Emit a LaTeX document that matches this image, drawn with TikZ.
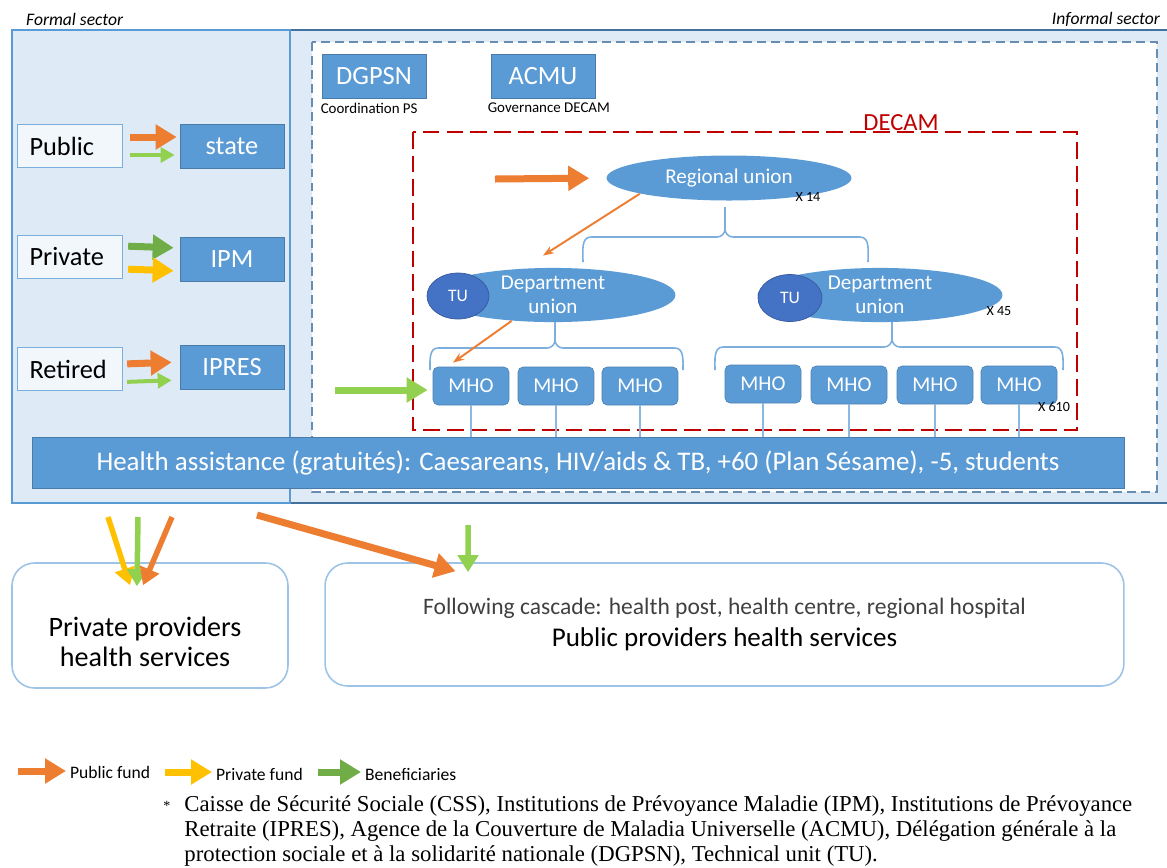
\documentclass[tikz,border=0pt]{standalone}
\usepackage{fontspec}
\setmainfont{Carlito}
\newfontfamily\notefont{Liberation Serif}
\usepackage{xcolor}
\usetikzlibrary{shapes,arrows.meta,positioning,calc}

\definecolor{boxblue}{HTML}{5B9BD5}
\definecolor{darkblue}{HTML}{41719C}
\definecolor{paleblue}{HTML}{DEEBF7}
\definecolor{tublue}{HTML}{4472C4}
\definecolor{fundorange}{HTML}{ED7D31}
\definecolor{fundyellow}{HTML}{FFC000}
\definecolor{benefgreen}{HTML}{70AD47}
\definecolor{lightgreen}{HTML}{92D050}
\definecolor{decamred}{HTML}{C00000}
\definecolor{framegray}{HTML}{9DC3E6}

% brace under a union: x1, x2, xmid, ytip, ybar, ytop
\newcommand{\hbrace}[6]{%
  \draw[braceline] (#1,#4) to[out=90,in=180] (#1+8,#5) -- (#3-8,#5) to[out=0,in=-90] (#3,#5-8) -- (#3,#6);
  \draw[braceline] (#2,#4) to[out=90,in=0] (#2-8,#5) -- (#3+8,#5) to[out=180,in=-90] (#3,#5-8);
}

\begin{document}
\begin{tikzpicture}[x=0.02cm, y=-0.02cm,
    bluebox/.style={rectangle, fill=boxblue, draw=boxblue!80!black, line width=0.4pt, text=white, font=\fontsize{15}{18}\selectfont, minimum width=2.08cm, minimum height=0.88cm, inner sep=0pt},
    srcbox/.style={rectangle, fill=paleblue!40!white, draw=boxblue!80, line width=0.8pt, font=\fontsize{15}{18}\selectfont, text width=1.62cm, inner xsep=0.24cm, inner ysep=0pt, minimum height=0.86cm, align=left},
    union/.style={ellipse, fill=boxblue, text=white, font=\fontsize{12}{14}\selectfont, minimum width=4.9cm, minimum height=0.92cm, inner sep=0pt, align=center},
    tu/.style={ellipse, fill=tublue, draw=tublue!80!black, text=white, font=\fontsize{10}{12}\selectfont, minimum width=1.24cm, minimum height=0.92cm, inner sep=0pt},
    mho/.style={rectangle, rounded corners=3pt, fill=boxblue, draw=boxblue!85!black, text=white, font=\fontsize{12}{14}\selectfont, minimum width=1.52cm, minimum height=0.76cm, inner sep=0pt},
    provbox/.style={rectangle, rounded corners=0.45cm, draw=framegray, line width=0.9pt, fill=white},
    count/.style={font=\fontsize{8}{9}\selectfont, inner sep=0pt},
    small/.style={font=\fontsize{8.5}{10}\selectfont, inner sep=1pt},
    legend/.style={font=\fontsize{10}{12}\selectfont, inner sep=1pt},
    fat/.style={line width=0.14cm, -{Triangle[length=0.42cm,width=0.48cm]}},
    slim/.style={line width=0.08cm, -{Triangle[length=0.28cm,width=0.3cm]}},
    drop/.style={line width=0.11cm, -{Triangle[length=0.34cm,width=0.4cm]}},
    link/.style={fundorange, line width=1.1pt, -{Stealth[length=0.22cm,width=0.16cm]}},
    tie/.style={boxblue!70, line width=0.8pt},
    braceline/.style={boxblue!80, line width=0.9pt},
]
    \useasboundingbox (0,0) rectangle (1167,867);

    % Sectors
    \node[anchor=west, font=\itshape\fontsize{10}{12}\selectfont] (formallbl) at (20,19) {Formal sector};
    \node[anchor=east, font=\itshape\fontsize{10}{12}\selectfont] (informallbl) at (1166,19) {Informal sector};
    \draw[darkblue, line width=1.6pt, fill=paleblue] (290,30) rectangle (1180,503);
    \draw[boxblue, line width=1.4pt, fill=paleblue] (12,30) rectangle (290,503);
    \draw[darkblue!80, line width=1.1pt, dash pattern=on 5pt off 3pt, fill=white] (312,42) rectangle (1157,492);

    % Formal sector funds
    \node[srcbox] (pub) at (70,146) {Public};
    \node[srcbox] (priv) at (70,257) {Private};
    \node[srcbox] (ret) at (70,369) {Retired};
    \node[bluebox] (state) at (232,146) {state};
    \node[bluebox] (ipm) at (232,259) {IPM};
    \node[bluebox] (ipres) at (232,367) {IPRES};

    \draw[fat, fundorange, shorten <=0.14cm, shorten >=0.06cm] ([yshift=0.18cm]pub.east) -- ([yshift=0.18cm]state.west);
    \draw[slim, lightgreen, shorten <=0.14cm, shorten >=0.1cm] ([yshift=-0.18cm]pub.east) -- ([yshift=-0.18cm]state.west);
    \draw[fat, benefgreen, shorten <=0.1cm, shorten >=0.12cm] ([yshift=0.22cm]priv.east) -- ([yshift=0.22cm]ipm.west);
    \draw[fat, fundyellow, shorten <=0.1cm, shorten >=0.12cm] ([yshift=-0.24cm]priv.east) -- ([yshift=-0.24cm]ipm.west);
    \draw[fat, fundorange, shorten <=0.08cm, shorten >=0.16cm] ([yshift=0.1cm]ret.east) -- ([yshift=0.1cm]ipres.west);
    \draw[slim, lightgreen, shorten <=0.08cm, shorten >=0.16cm] ([yshift=-0.26cm]ret.east) -- ([yshift=-0.26cm]ipres.west);

    % Informal sector
    \node[bluebox] (dgpsn) at (374,76.5) {DGPSN};
    \node[bluebox] (acmu) at (543,76.5) {ACMU};
    \node[small, anchor=north west] (coordlbl) at ([xshift=-0.06cm,yshift=-0.04cm]dgpsn.south west) {Coordination PS};
    \node[small, anchor=north west] (govlbl) at ([xshift=-0.1cm,yshift=-0.04cm]acmu.south west) {Governance DECAM};

    % DECAM
    \draw[decamred, line width=1.5pt, dash pattern=on 9.5pt off 4pt] (413,132) rectangle (1077,430);
    \node[anchor=south, inner sep=1pt, text=decamred, font=\fontsize{14}{16}\selectfont] (decamlbl) at (901,133) {DECAM};

    \hbrace{583}{868}{725}{262}{237}{207}
    \hbrace{430}{683}{555}{370}{348}{320}
    \hbrace{715}{1063}{892}{370}{347}{319}

    \node[union, minimum width=4.9cm, minimum height=0.9cm] (reg) at (729,178) {Regional union};
    \node[count] (x14) at (808,197) {X 14};
    \node[union] (deptl) at (553,295) {Department\\union};
    \node[union] (deptr) at (880,295) {Department\\union};
    \node[tu] (tul) at (458,296) {TU};
    \node[tu, minimum width=1.28cm, minimum height=0.94cm] (tur) at (790,298) {TU};
    \node[count] (x45) at (999,311) {X 45};

    \node[mho] (m1) at (471,386) {MHO};
    \node[mho] (m2) at (556,386) {MHO};
    \node[mho] (m3) at (640,386) {MHO};
    \node[mho] (m4) at (763,384) {MHO};
    \node[mho] (m5) at (849,385) {MHO};
    \node[mho] (m6) at (935,385) {MHO};
    \node[mho] (m7) at (1019,385) {MHO};
    \node[count] (x610) at (1054,407) {X 610};

    \coordinate (regsrc) at (495,179);
    \draw[fat, fundorange, shorten >=0.34cm] (regsrc) -- (reg.west);
    \draw[link] (reg.190) -- ([xshift=-0.2cm,yshift=0.24cm]deptl.north);
    \draw[link] (deptl.212) -- ([xshift=-0.36cm,yshift=0.08cm]m1.north);
    \coordinate (mhosrc) at (335,390);
    \draw[fat, lightgreen, shorten >=0.1cm] (mhosrc) -- (mhosrc -| m1.west);

    % Health assistance
    \node[rectangle, fill=boxblue, draw=boxblue!80!black, text=white, font=\fontsize{15.3}{18}\selectfont, minimum width=21.84cm, minimum height=1.02cm, inner sep=0pt] (bar) at (578,462.5) {Health assistance (gratuités): Caesareans, HIV/aids \& TB, +60 (Plan Sésame), -5, students};
    \foreach \m in {m1,m2,m3,m4,m5,m6,m7}
        \draw[tie] (\m.south) -- (\m.south |- bar.north);

    % Providers
    \node[provbox, minimum width=5.52cm, minimum height=2.5cm] (privprov) at (150,625.5) {};
    \node[align=center, font=\fontsize{16}{17}\selectfont] (privtxt) at (145,642) {Private providers\\health services};
    \node[provbox, minimum width=15.98cm, minimum height=2.46cm, align=center] (pubprov) at (724.5,624.5)
        {{\color{black!75}\fontsize{13.4}{15}\selectfont Following cascade: health post, health centre, regional hospital}\\[4pt]
         {\fontsize{15.4}{18}\selectfont Public providers health services}};

    \coordinate (ysrc) at (108,517);
    \coordinate (gsrc) at (138,517);
    \coordinate (osrc) at (172,517);
    \coordinate (bigsrc) at (257,515);
    \coordinate (gpub) at (468,525);
    \draw[drop, fundyellow] (ysrc) -- ([xshift=-0.4cm,yshift=-0.46cm]privprov.north);
    \draw[drop, lightgreen] (gsrc) -- ([xshift=-0.26cm,yshift=-0.48cm]privprov.north);
    \draw[drop, fundorange] (osrc) -- ([xshift=-0.14cm,yshift=-0.46cm]privprov.north);
    \draw[fat, fundorange] (bigsrc) -- ([xshift=-5.38cm,yshift=-0.18cm]pubprov.north);
    \draw[drop, lightgreen] (gpub) -- ([xshift=-5.13cm,yshift=-0.2cm]pubprov.north);

    % Legend
    \node[legend, anchor=west] (lpub) at (68,772) {Public fund};
    \node[legend, anchor=west] (lpriv) at (214,774) {Private fund};
    \node[legend, anchor=west] (lben) at (363,774) {Beneficiaries};
    \coordinate (lpubsrc) at (18,771);
    \coordinate (lprivsrc) at (165,772);
    \coordinate (lbensrc) at (318,772);
    \draw[fat, fundorange, shorten >=0.04cm] (lpubsrc) -- (lpubsrc -| lpub.west);
    \draw[fat, fundyellow, shorten >=0.04cm] (lprivsrc) -- (lprivsrc -| lpriv.west);
    \draw[fat, benefgreen, shorten >=0.04cm] (lbensrc) -- (lbensrc -| lben.west);

    % Footnote
    \node[anchor=north west, inner sep=0pt, font=\notefont\fontsize{12.95}{14.2}\selectfont] (note) at (163,794)
        {\begin{tabular}{@{}l@{\hspace{8pt}}l@{}}
         \raisebox{1pt}{\footnotesize *} & Caisse de Sécurité Sociale (CSS), Institutions de Prévoyance Maladie (IPM), Institutions de Prévoyance\\
          & Retraite (IPRES), Agence de la Couverture de Maladia Universelle (ACMU), Délégation générale à la\\
          & protection sociale et à la solidarité nationale (DGPSN), Technical unit (TU).
         \end{tabular}};
\end{tikzpicture}
\end{document}
